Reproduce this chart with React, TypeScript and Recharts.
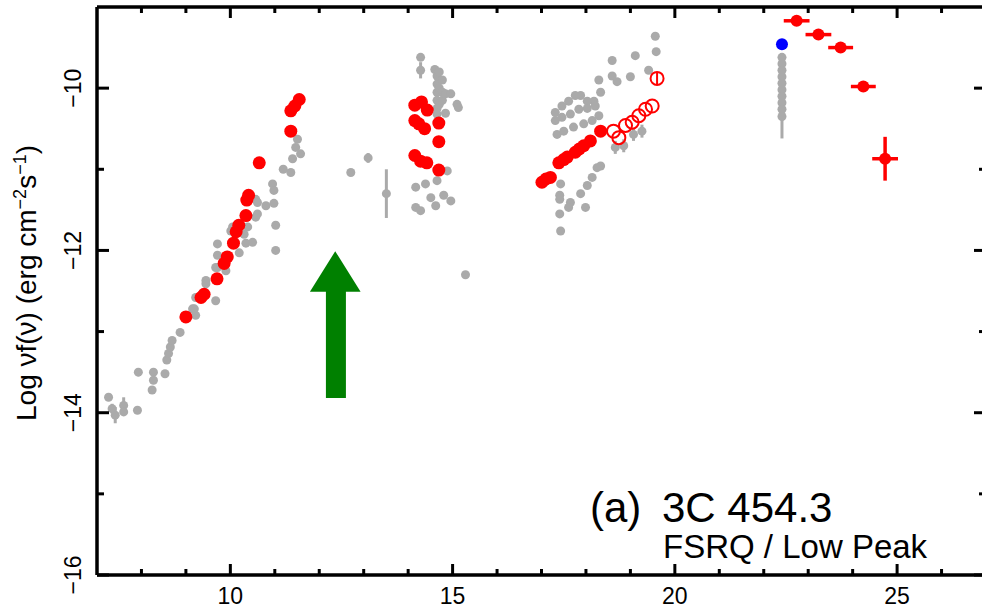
import { ScatterChart, Scatter, XAxis, YAxis, ErrorBar, ReferenceArea } from 'recharts'

// [log nu, log nuFnu, y error]
const grayRadio: number[][] = [
  [7.26, -13.81, 0], [7.34, -13.95, 0.06], [7.41, -14.03, 0.1], [7.6, -13.91, 0.1], [7.6, -13.99, 0],
  [7.91, -13.97, 0], [7.93, -13.5, 0.05], [8.27, -13.5, 0], [8.27, -13.6, 0], [8.24, -13.72, 0],
  [8.53, -13.52, 0], [8.57, -13.35, 0], [8.61, -13.27, 0], [8.65, -13.19, 0], [8.69, -13.11, 0],
  [8.87, -13.01, 0], [9.15, -12.72, 0], [9.19, -12.72, 0], [9.22, -12.8, 0], [9.22, -12.58, 0],
  [9.26, -12.58, 0], [9.45, -12.37, 0], [9.45, -12.41, 0], [9.67, -12.62, 0], [9.67, -12.21, 0],
  [9.71, -11.92, 0], [9.71, -12.06, 0], [9.71, -12.21, 0], [9.9, -12.25, 0], [10.01, -11.76, 0],
  [10.05, -11.71, 0], [10.2, -12.03, 0], [10.31, -11.8, 0], [10.35, -11.91, 0], [10.39, -11.71, 0],
  [10.5, -11.9, 0], [10.57, -11.59, 0], [10.57, -11.37, 0], [10.61, -11.41, 0], [10.61, -11.55, 0],
  [10.8, -11.45, 0], [10.95, -11.18, 0], [10.98, -11.26, 0], [10.98, -11.42, 0], [11.02, -11.69, 0],
  [11.02, -12.0, 0], [11.19, -11.0, 0], [11.36, -11.04, 0], [11.4, -10.87, 0], [11.47, -10.73, 0],
  [11.51, -10.63, 0], [11.58, -10.81, 0], [12.71, -11.04, 0.03], [13.1, -10.86, 0.06], [13.51, -11.3, 0.3],
]

const grayOptical: number[][] = [
  [14.28, -9.62, 0], [14.28, -9.78, 0.1], [14.6, -9.77, 0], [14.65, -9.85, 0], [14.65, -9.95, 0],
  [14.65, -10.05, 0], [14.65, -10.15, 0], [14.65, -10.25, 0], [14.65, -10.32, 0], [14.7, -9.8, 0],
  [14.7, -10.0, 0], [14.7, -10.2, 0], [14.77, -9.9, 0], [14.77, -10.05, 0], [14.77, -10.15, 0],
  [14.84, -10.07, 0], [14.96, -10.07, 0], [15.1, -10.2, 0], [15.13, -10.24, 0], [14.84, -10.31, 0],
  [14.88, -11.02, 0], [14.65, -11.14, 0], [14.17, -11.22, 0], [14.39, -11.18, 0], [14.51, -11.35, 0],
  [14.62, -11.45, 0], [14.8, -11.32, 0], [14.96, -11.39, 0], [14.17, -11.47, 0], [14.28, -11.51, 0],
  [15.29, -12.3, 0],
]

const grayXray: number[][] = [
  [19.56, -9.36, 0], [19.58, -9.55, 0], [19.11, -9.6, 0], [19.41, -9.78, 0], [19.0, -9.86, 0],
  [18.59, -9.66, 0], [18.59, -9.85, 0], [18.7, -9.92, 0], [18.29, -9.9, 0], [18.33, -10.05, 0],
  [18.18, -10.16, 0], [18.03, -10.16, 0], [17.88, -10.09, 0], [17.76, -10.09, 0], [17.61, -10.16, 0],
  [17.46, -10.22, 0], [17.31, -10.3, 0], [17.31, -10.4, 0], [17.46, -10.36, 0], [17.65, -10.32, 0],
  [17.84, -10.26, 0], [18.03, -10.25, 0], [18.21, -10.22, 0], [17.35, -10.57, 0], [17.5, -10.53, 0],
  [17.72, -10.48, 0], [17.95, -10.44, 0], [18.14, -10.4, 0], [18.29, -10.34, 0],
  [17.43, -11.18, 0], [17.41, -11.32, 0], [17.41, -11.37, 0], [17.41, -11.55, 0], [17.43, -11.76, 0.05],
  [17.65, -11.41, 0], [17.88, -11.3, 0], [18.03, -11.2, 0], [18.14, -11.1, 0], [18.25, -10.98, 0],
  [18.33, -10.96, 0], [17.99, -11.47, 0], [17.61, -11.47, 0],
  [18.66, -10.73, 0.08], [18.85, -10.71, 0.08], [19.07, -10.57, 0.08], [19.26, -10.53, 0.08],
]

const grayGamma: number[][] = [
  [22.41, -9.62, 0], [22.41, -9.7, 0], [22.41, -9.78, 0], [22.41, -9.86, 0], [22.41, -9.94, 0],
  [22.41, -10.02, 0], [22.41, -10.1, 0], [22.41, -10.18, 0], [22.41, -10.26, 0], [22.41, -10.35, 0.27],
]

const redRadio: number[][] = [
  [9.0, -12.82, 0], [9.34, -12.58, 0], [9.41, -12.54, 0], [9.7, -12.35, 0], [9.86, -12.16, 0],
  [9.93, -12.08, 0], [10.07, -11.91, 0], [10.13, -11.77, 0], [10.19, -11.69, 0], [10.35, -11.57, 0],
  [10.37, -11.38, 0], [10.41, -11.32, 0], [10.65, -10.92, 0], [11.36, -10.53, 0], [11.36, -10.28, 0],
  [11.45, -10.22, 0], [11.55, -10.14, 0],
]

const redOptical: number[][] = [
  [14.15, -10.21, 0], [14.3, -10.17, 0], [14.43, -10.27, 0], [14.15, -10.4, 0], [14.24, -10.44, 0],
  [14.37, -10.5, 0], [14.69, -10.43, 0], [14.69, -10.66, 0], [14.15, -10.83, 0], [14.28, -10.9, 0],
  [14.42, -10.92, 0], [14.69, -11.01, 0],
]

const redXray: number[][] = [
  [17.01, -11.16, 0.05], [17.1, -11.12, 0.05], [17.2, -11.1, 0.05], [17.39, -10.92, 0.05],
  [17.5, -10.88, 0.05], [17.58, -10.85, 0.05], [17.76, -10.79, 0.05], [17.85, -10.75, 0.05],
  [17.95, -10.71, 0.05], [18.1, -10.65, 0.05], [18.33, -10.53, 0.05],
]

const redXrayOpen: number[][] = [
  [18.62, -10.53, 0], [18.74, -10.61, 0], [18.89, -10.46, 0], [19.04, -10.42, 0], [19.19, -10.34, 0],
  [19.34, -10.26, 0], [19.49, -10.22, 0], [19.6, -9.88, 0.08],
]

// [log nu, log nuFnu, y error, x error]
const redGamma: number[][] = [
  [22.74, -9.17, 0, 0.29], [23.23, -9.34, 0, 0.29], [23.73, -9.5, 0, 0.28], [24.24, -9.98, 0, 0.28],
  [24.73, -10.87, 0.27, 0.29],
]

const bluePoint: number[][] = [[22.41, -9.46, 0]]

const xTicks = [8, 9, 10, 11, 12, 13, 14, 15, 16, 17, 18, 19, 20, 21, 22, 23, 24, 25, 26]
const yTicks = [-16, -15, -14, -13, -12, -11, -10]

// green arrow, in data units
const arrowShaft = { x1: 12.15, x2: 12.6, y1: -13.82, y2: -12.5 }
const arrowHead = { x1: 11.79, x2: 12.93, y1: -12.51, y2: -12.01 }

const GRAY = '#aaaaaa'
const RED = '#ff0000'
const FONT = '"Liberation Sans", Arial, Helvetica, sans-serif'

const rows = (d: number[][]) => d.map(([x, y, ey, ex]) => ({ x, y, ey: ey ?? 0, ex: ex ?? 0 }))

const dot = (r: number, fill: string, stroke?: string) => (p: any) =>
  stroke ? (
    <circle cx={p.cx} cy={p.cy} r={r} fill="none" stroke={stroke} strokeWidth={2} />
  ) : (
    <circle cx={p.cx} cy={p.cy} r={r} fill={fill} />
  )

const BottomTick = (p: any) => {
  const v = p.payload.value
  const major = v % 5 === 0
  return (
    <g>
      <line x1={p.x} x2={p.x} y1={p.y} y2={p.y - (major ? 11 : 6)} stroke="#000" strokeWidth={3} />
      {major && (
        <text x={p.x} y={p.y + 29} textAnchor="middle" fontSize={23} fontFamily={FONT} fill="#000">
          {v}
        </text>
      )}
    </g>
  )
}

const TopTick = (p: any) => {
  const major = p.payload.value % 5 === 0
  return <line x1={p.x} x2={p.x} y1={p.y} y2={p.y + (major ? 11 : 6)} stroke="#000" strokeWidth={3} />
}

const LeftTick = (p: any) => {
  const v = p.payload.value
  const major = v % 2 === 0
  const tx = p.x - 16
  return (
    <g>
      <line x1={p.x} x2={p.x + (major ? 12 : 7)} y1={p.y} y2={p.y} stroke="#000" strokeWidth={3} />
      {major && (
        <text
          x={tx}
          y={p.y}
          transform={`rotate(-90, ${tx}, ${p.y})`}
          textAnchor="middle"
          fontSize={23}
          fontFamily={FONT}
          fill="#000"
        >
          {'\u2212' + Math.abs(v)}
        </text>
      )}
    </g>
  )
}

const RightTick = (p: any) => {
  const major = p.payload.value % 2 === 0
  return <line x1={p.x} x2={p.x - (major ? 12 : 7)} y1={p.y} y2={p.y} stroke="#000" strokeWidth={3} />
}

const ArrowHead = (p: any) => (
  <polygon
    points={`${p.x},${p.y + p.height} ${p.x + p.width},${p.y + p.height} ${p.x + p.width / 2},${p.y}`}
    fill="#008000"
  />
)

const axisLine = { stroke: '#000', strokeWidth: 3.5 }

export default function App() {
  return (
    <div
      style={{
        position: 'fixed',
        left: 0,
        top: 0,
        width: 982,
        height: 608,
        overflow: 'hidden',
        background: '#fff',
      }}
    >
      <ScatterChart width={1000} height={608} margin={{ top: 6, right: 13, bottom: 0, left: 0 }}>
        <XAxis
          type="number"
          dataKey="x"
          domain={[7, 27]}
          ticks={xTicks}
          allowDataOverflow
          height={33}
          tickSize={0}
          tickMargin={0}
          tickLine={false}
          tick={BottomTick}
          axisLine={axisLine}
          interval={0}
        />
        <XAxis
          xAxisId="top"
          orientation="top"
          type="number"
          dataKey="x"
          domain={[7, 27]}
          ticks={xTicks}
          allowDataOverflow
          height={1}
          tickSize={0}
          tickMargin={0}
          tickLine={false}
          tick={TopTick}
          axisLine={axisLine}
          interval={0}
        />
        <YAxis
          type="number"
          dataKey="y"
          domain={[-16, -9]}
          ticks={yTicks}
          allowDataOverflow
          width={97}
          tickSize={0}
          tickMargin={0}
          tickLine={false}
          tick={LeftTick}
          axisLine={axisLine}
          interval={0}
        />
        <YAxis
          yAxisId="right"
          orientation="right"
          type="number"
          dataKey="y"
          domain={[-16, -9]}
          ticks={yTicks}
          allowDataOverflow
          width={1}
          tickSize={0}
          tickMargin={0}
          tickLine={false}
          tick={RightTick}
          axisLine={axisLine}
          interval={0}
        />

        <ReferenceArea {...arrowShaft} fill="#008000" fillOpacity={1} stroke="none" ifOverflow="visible" />
        <ReferenceArea {...arrowHead} shape={ArrowHead} ifOverflow="visible" />

        {[grayRadio, grayOptical, grayXray, grayGamma].map((d, i) => (
          <Scatter key={'g' + i} data={rows(d)} shape={dot(4.5, GRAY)} isAnimationActive={false}>
            <ErrorBar dataKey="ey" direction="y" width={0} stroke={GRAY} strokeWidth={3} isAnimationActive={false} />
          </Scatter>
        ))}

        {[redRadio, redOptical, redXray].map((d, i) => (
          <Scatter key={'r' + i} data={rows(d)} shape={dot(6.5, RED)} isAnimationActive={false}>
            <ErrorBar dataKey="ey" direction="y" width={0} stroke={RED} strokeWidth={3} isAnimationActive={false} />
          </Scatter>
        ))}

        <Scatter data={rows(redXrayOpen)} shape={dot(6.5, 'none', RED)} isAnimationActive={false}>
          <ErrorBar dataKey="ey" direction="y" width={0} stroke={RED} strokeWidth={2} isAnimationActive={false} />
        </Scatter>

        <Scatter data={rows(redGamma)} shape={dot(6, RED)} isAnimationActive={false}>
          <ErrorBar dataKey="ey" direction="y" width={0} stroke={RED} strokeWidth={3.5} isAnimationActive={false} />
          <ErrorBar dataKey="ex" direction="x" width={0} stroke={RED} strokeWidth={3.5} isAnimationActive={false} />
        </Scatter>

        {/* drawn on the top/right axes (same domains) so those frame axes are rendered */}
        <Scatter
          xAxisId="top"
          yAxisId="right"
          data={rows(bluePoint)}
          shape={dot(6, '#0000ff')}
          isAnimationActive={false}
        />
      </ScatterChart>

      <svg
        width={982}
        height={608}
        style={{ position: 'absolute', left: 0, top: 0, pointerEvents: 'none' }}
        fontFamily={FONT}
      >
        <text x={36} y={283} transform="rotate(-90, 36, 283)" textAnchor="middle" fontSize={28} fill="#000">
          Log νf(ν) (erg cm
          <tspan dy={-10} fontSize={18}>
            −2
          </tspan>
          <tspan dy={10}>s</tspan>
          <tspan dy={-10} fontSize={18}>
            −1
          </tspan>
          <tspan dy={10}>)</tspan>
        </text>
        <text x={590} y={522} fontSize={42} fill="#000">
          (a)
        </text>
        <text x={662} y={522} fontSize={42} fill="#000">
          3C 454.3
        </text>
        <text x={663} y={558} fontSize={33} fill="#000">
          FSRQ / Low Peak
        </text>
      </svg>
    </div>
  )
}
